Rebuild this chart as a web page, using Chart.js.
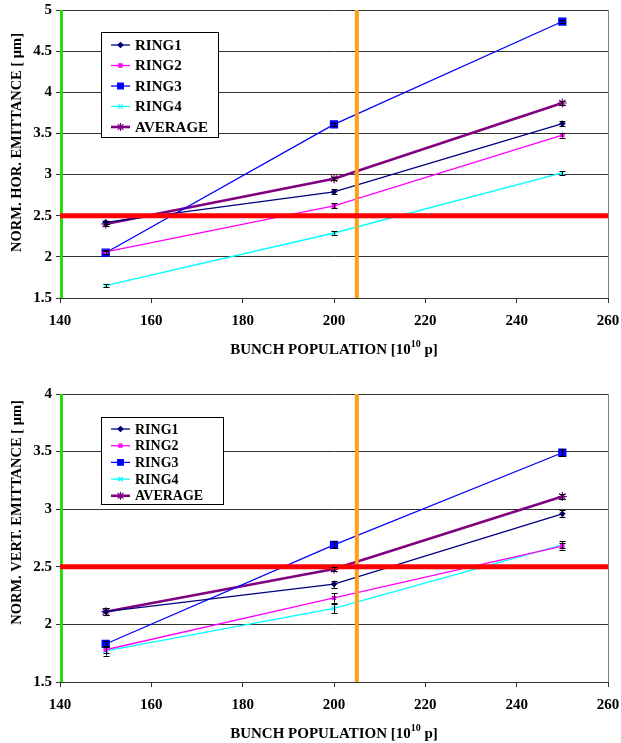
<!DOCTYPE html>
<html>
<head>
<meta charset="utf-8">
<script src="https://cdn.jsdelivr.net/npm/chart.js@4.4.1/dist/chart.umd.min.js"></script>
<style>
  html, body { margin: 0; padding: 0; background: #fff; }
  .box { position: relative; width: 621px; }
  canvas { display: block; }
</style>
</head>
<body>
<div class="box" style="height:370px"><canvas id="graficoHor" width="621" height="370"></canvas></div>
<div class="box" style="height:373px"><canvas id="graficoVert" width="621" height="373"></canvas></div>
<script>
// bunch population (x)
const population = [150, 200, 250];
const seriesNames = ['RING1', 'RING2', 'RING3', 'RING4', 'AVERAGE'];

// horizontal emittance
const horRing1 = [2.42, 2.79, 3.62];
const horRing2 = [2.06, 2.62, 3.48];
const horRing3 = [2.05, 3.61, 4.86];
const horRing4 = [1.65, 2.29, 3.02];
const horAverage = [2.40, 2.95, 3.87];
const horRing1Err = [0.02, 0.03, 0.03];
const horRing2Err = [0.02, 0.03, 0.03];
const horRing3Err = [0.02, 0.02, 0.02];
const horRing4Err = [0.02, 0.02, 0.02];
const horAverageErr = [0.03, 0.02, 0.02];

// vertical emittance
const vertRing1 = [2.11, 2.35, 2.96];
const vertRing2 = [1.78, 2.23, 2.68];
const vertRing3 = [1.83, 2.69, 3.49];
const vertRing4 = [1.77, 2.14, 2.69];
const vertAverage = [2.11, 2.48, 3.11];
const vertRing1Err = [0.03, 0.03, 0.03];
const vertRing2Err = [0.03, 0.04, 0.03];
const vertRing3Err = [0.03, 0.03, 0.03];
const vertRing4Err = [0.04, 0.04, 0.03];
const vertAverageErr = [0.03, 0.02, 0.02];

// reference lines
const limitEmittance = 2.5;
const minPopulation = 140.2;
const nominalPopulation = 205;

const horTicksX = [140, 160, 180, 200, 220, 240, 260];

const FONT = '"Liberation Serif", "Times New Roman", serif';

const estilos = [
  { color: '#000080', style: 'rectRot', radius: 2.5, width: 1.3 },
  { color: '#FF00FF', style: 'rect', radius: 2.2, width: 1.3 },
  { color: '#0000FF', style: 'rect', radius: 5, width: 1.3 },
  { color: '#00FFFF', style: 'crossRot', radius: 3, width: 1.3 },
  { color: '#800080', style: 'star', radius: 4.5, width: 2.6 }
];

function serie(nombre, valores, errores, est) {
  return {
    label: nombre,
    data: population.map((x, i) => ({ x, y: valores[i] })),
    errores,
    borderColor: est.color,
    backgroundColor: est.color,
    borderWidth: est.width,
    pointStyle: est.style,
    pointRadius: est.radius,
    pointBorderWidth: 1.2,
    pointBorderColor: est.color,
    order: 2
  };
}

function lineaRef(puntos, color, ancho) {
  return {
    label: '',
    data: puntos,
    borderColor: color,
    borderWidth: ancho,
    pointRadius: 0,
    order: 0,
    esRef: true
  };
}

const errorBars = {
  id: 'errorBars',
  afterDatasetsDraw(chart) {
    const ctx = chart.ctx;
    const ys = chart.scales.y;
    ctx.save();
    ctx.strokeStyle = '#000';
    ctx.lineWidth = 1;
    chart.data.datasets.forEach((ds, di) => {
      if (!ds.errores) return;
      const meta = chart.getDatasetMeta(di);
      meta.data.forEach((pt, i) => {
        const v = ds.data[i].y;
        const e = ds.errores[i];
        const y1 = ys.getPixelForValue(v + e);
        const y2 = ys.getPixelForValue(v - e);
        const x = Math.round(pt.x) + 0.5;
        ctx.beginPath();
        ctx.moveTo(x, y1); ctx.lineTo(x, y2);
        ctx.moveTo(x - 3, Math.round(y1) + 0.5); ctx.lineTo(x + 3, Math.round(y1) + 0.5);
        ctx.moveTo(x - 3, Math.round(y2) + 0.5); ctx.lineTo(x + 3, Math.round(y2) + 0.5);
        ctx.stroke();
      });
    });
    ctx.restore();
  }
};

const marcoPlot = {
  id: 'marcoPlot',
  beforeDatasetsDraw(chart) {
    const { top, right, bottom } = chart.chartArea;
    const ctx = chart.ctx;
    ctx.save();
    ctx.strokeStyle = '#808080';
    ctx.lineWidth = 1;
    ctx.beginPath();
    ctx.moveTo(Math.round(right) + 0.5, top);
    ctx.lineTo(Math.round(right) + 0.5, bottom);
    ctx.stroke();
    ctx.restore();
  }
};

// axis titles: x with a real superscript, y centred like the original
const titulosEjes = {
  id: 'titulosEjes',
  afterDraw(chart, args, opts) {
    const ctx = chart.ctx;
    const { left, right } = chart.chartArea;
    const sx = chart.scales.x;
    ctx.save();
    ctx.fillStyle = '#000';
    ctx.textBaseline = 'middle';
    const big = 'bold 15px ' + FONT;
    const small = 'bold 10px ' + FONT;
    const partes = [['BUNCH POPULATION [10', big, 0], ['10', small, -6], [' p]', big, 0]];
    let total = 0;
    partes.forEach(p => { ctx.font = p[1]; total += ctx.measureText(p[0]).width; });
    let x = (left + right) / 2 - total / 2;
    const y = sx.bottom - 9;
    ctx.textAlign = 'left';
    partes.forEach(p => {
      ctx.font = p[1];
      ctx.fillText(p[0], x, y + p[2]);
      x += ctx.measureText(p[0]).width;
    });
    ctx.translate(17, opts.yCentro);
    ctx.rotate(-Math.PI / 2);
    ctx.textAlign = 'center';
    ctx.font = 'bold 14.5px ' + FONT;
    ctx.fillText(opts.yTexto, 0, 0);
    ctx.restore();
  }
};

const leyenda = {
  id: 'leyenda',
  afterDraw(chart, args, opts) {
    const ctx = chart.ctx;
    const { x, y, w, h, paso, font } = opts;
    ctx.save();
    ctx.fillStyle = '#fff';
    ctx.fillRect(x, y, w, h);
    ctx.strokeStyle = '#000';
    ctx.lineWidth = 1;
    ctx.strokeRect(x + 0.5, y + 0.5, w, h);
    const series = chart.data.datasets.filter(d => !d.esRef);
    series.forEach((ds, i) => {
      const cy = y + opts.primero + i * paso;
      ctx.strokeStyle = ds.borderColor;
      ctx.lineWidth = ds.borderWidth;
      ctx.beginPath();
      ctx.moveTo(x + 10, cy); ctx.lineTo(x + 29, cy);
      ctx.stroke();
      ctx.fillStyle = ds.backgroundColor;
      ctx.lineWidth = 1.2;
      Chart.helpers.drawPoint(ctx, { pointStyle: ds.pointStyle, radius: Math.min(ds.pointRadius, 4), rotation: 0, borderWidth: 1.2 }, x + 19.5, cy);
      ctx.fillStyle = '#000';
      ctx.font = 'bold ' + font + 'px ' + FONT;
      ctx.textBaseline = 'middle';
      ctx.textAlign = 'left';
      ctx.fillText(ds.label, x + 34, cy + 1);
    });
    ctx.restore();
  }
};

function crearGrafico(id, datos, errores, yMin, yMax, yTitulo, padTop, padBottom, leg) {
  const ctx = document.getElementById(id).getContext('2d');
  const datasets = datos.map((v, i) => serie(seriesNames[i], v, errores[i], estilos[i]));
  datasets.push(lineaRef([{ x: 140, y: limitEmittance }, { x: 260, y: limitEmittance }], '#FF0000', 5));
  datasets.push(lineaRef([{ x: minPopulation, y: yMin }, { x: minPopulation, y: yMax }], '#22DD00', 4));
  datasets.push(lineaRef([{ x: nominalPopulation, y: yMin }, { x: nominalPopulation, y: yMax }], '#FF9F1A', 4));
  return new Chart(ctx, {
    type: 'line',
    data: { datasets },
    options: {
      responsive: false,
      animation: false,
      layout: { padding: { left: 0, right: 13, top: padTop, bottom: padBottom } },
      plugins: {
        legend: { display: false },
        tooltip: { enabled: false },
        leyenda: leg,
        titulosEjes: { yTexto: yTitulo, yCentro: 142.5 }
      },
      scales: {
        x: {
          type: 'linear',
          min: 140, max: 260,
          afterBuildTicks: s => { s.ticks = horTicksX.map(v => ({ value: v })); },
          afterFit: s => { s.height = 61; s.paddingLeft = 0; s.paddingRight = 0; },
          grid: { drawOnChartArea: false, drawTicks: true, tickLength: 5, color: '#333' },
          border: { color: '#333', width: 1 },
          ticks: { color: '#000', padding: 9, font: { family: FONT, size: 15, weight: 'bold' } }
        },
        y: {
          min: yMin, max: yMax,
          afterFit: s => { s.width = 60; s.paddingTop = 0; s.paddingBottom = 0; },
          grid: { color: '#333', lineWidth: 1, tickLength: 4 },
          border: { color: '#333' },
          ticks: { stepSize: 0.5, color: '#000', padding: 4, font: { family: FONT, size: 15, weight: 'bold' }, callback: v => String(v) }
        }
      }
    },
    plugins: [marcoPlot, errorBars, leyenda, titulosEjes]
  });
}

document.addEventListener('DOMContentLoaded', () => {
  crearGrafico('graficoHor',
    [horRing1, horRing2, horRing3, horRing4, horAverage],
    [horRing1Err, horRing2Err, horRing3Err, horRing4Err, horAverageErr],
    1.5, 5, 'NORM. HOR. EMITTANCE [ μm]', 10, 11,
    { x: 101, y: 32, w: 117, h: 105, primero: 13, paso: 20.5, font: 15 });
  crearGrafico('graficoVert',
    [vertRing1, vertRing2, vertRing3, vertRing4, vertAverage],
    [vertRing1Err, vertRing2Err, vertRing3Err, vertRing4Err, vertAverageErr],
    1.5, 4, 'NORM. VERT. EMITTANCE [ μm]', 24, 0,
    { x: 101, y: 47, w: 122, h: 87, primero: 12, paso: 16.7, font: 14 });
});
</script>
</body>
</html>
